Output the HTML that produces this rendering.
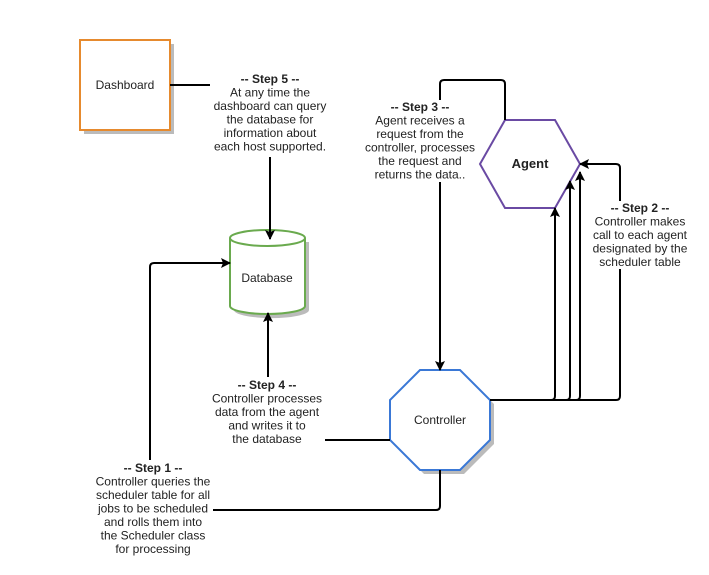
<!DOCTYPE html>
<html><head><style>body{margin:0;background:#fff}svg{display:block}</style></head><body>
<svg width="709" height="575" xmlns="http://www.w3.org/2000/svg" font-family="Liberation Sans, Arial, sans-serif" font-size="12" fill="#222">
<defs><marker id="a" markerWidth="10" markerHeight="10" refX="9" refY="5" orient="auto" markerUnits="userSpaceOnUse"><path d="M0,0 L10,5 L0,10 L2,5 z" fill="#000"/></marker></defs>
<rect x="84" y="44" width="90" height="90" fill="#bbb"/>
<path d="M424,374 L464,374 L494,404 L494,444 L464,474 L424,474 L394,444 L394,404 Z" fill="#bbb"/>
<path d="M234,242 L234,310 A37,8 0 0 0 309,310 L309,242 Z" fill="#bbb"/>
<rect x="80" y="40" width="90" height="90" fill="#fff" stroke="#e68a2e" stroke-width="2"/>
<text x="125" y="89" text-anchor="middle">Dashboard</text>
<path d="M230,238 L230,306 A37.5,8 0 0 0 305,306 L305,238" fill="#fff" stroke="#6aaa4e" stroke-width="2"/>
<ellipse cx="267.5" cy="238" rx="37.5" ry="8" fill="#fff" stroke="#6aaa4e" stroke-width="2"/>
<text x="267" y="282" text-anchor="middle">Database</text>
<path d="M420,370 L460,370 L490,400 L490,440 L460,470 L420,470 L390,440 L390,400 Z" fill="#fff" stroke="#3a78d6" stroke-width="2"/>
<text x="440" y="424" text-anchor="middle">Controller</text>
<path d="M505,120 L555,120 L580,164 L555,208 L505,208 L480,164 Z" fill="#fff" stroke="#6a4aa3" stroke-width="2"/>
<text x="530" y="168" text-anchor="middle" font-weight="bold" font-size="13">Agent</text>
<g fill="none" stroke="#000" stroke-width="2">
<path d="M170,85 L210,85"/>
<path d="M270,157 L270,239" marker-end="url(#a)"/>
<path d="M505,120 L505,84 Q505,80 501,80 L444,80 Q440,80 440,84 L440,370" marker-end="url(#a)"/>
<path d="M490,400 L551,400 Q555,400 555,396 L555,208" marker-end="url(#a)"/>
<path d="M490,400 L566,400 Q570,400 570,396 L570,181" marker-end="url(#a)"/>
<path d="M490,400 L576,400 Q580,400 580,396 L580,172" marker-end="url(#a)"/>
<path d="M490,400 L616,400 Q620,400 620,396 L620,168 Q620,164 616,164 L580,164" marker-end="url(#a)"/>
<path d="M390,440 L325,440"/>
<path d="M268,377 L268,313" marker-end="url(#a)"/>
<path d="M440,470 L440,506 Q440,510 436,510 L213,510"/>
<path d="M150,460 L150,267 Q150,263 154,263 L230,263" marker-end="url(#a)"/>
</g>
<g fill="#fff">
<rect x="362" y="100" width="116" height="82"/>
<rect x="590" y="201" width="102" height="68"/>
</g>
<g text-anchor="middle">
<text x="270" y="83"><tspan font-weight="bold">-- Step 5 --</tspan><tspan x="270" dy="13.5">At any time the</tspan><tspan x="270" dy="13.5">dashboard can query</tspan><tspan x="270" dy="13.5">the database for</tspan><tspan x="270" dy="13.5">information about</tspan><tspan x="270" dy="13.5">each host supported.</tspan></text>
<text x="420" y="111"><tspan font-weight="bold">-- Step 3 --</tspan><tspan x="420" dy="13.5">Agent receives a</tspan><tspan x="420" dy="13.5">request from the</tspan><tspan x="420" dy="13.5">controller, processes</tspan><tspan x="420" dy="13.5">the request and</tspan><tspan x="420" dy="13.5">returns the data..</tspan></text>
<text x="640" y="212"><tspan font-weight="bold">-- Step 2 --</tspan><tspan x="640" dy="13.5">Controller makes</tspan><tspan x="640" dy="13.5">call to each agent</tspan><tspan x="640" dy="13.5">designated by the</tspan><tspan x="640" dy="13.5">scheduler table</tspan></text>
<text x="267" y="389"><tspan font-weight="bold">-- Step 4 --</tspan><tspan x="267" dy="13.5">Controller processes</tspan><tspan x="267" dy="13.5">data from the agent</tspan><tspan x="267" dy="13.5">and writes it to</tspan><tspan x="267" dy="13.5">the database</tspan></text>
<text x="153" y="472"><tspan font-weight="bold">-- Step 1 --</tspan><tspan x="153" dy="13.5">Controller queries the</tspan><tspan x="153" dy="13.5">scheduler table for all</tspan><tspan x="153" dy="13.5">jobs to be scheduled</tspan><tspan x="153" dy="13.5">and rolls them into</tspan><tspan x="153" dy="13.5">the Scheduler class</tspan><tspan x="153" dy="13.5">for processing</tspan></text>
</g>
</svg>
</body></html>
